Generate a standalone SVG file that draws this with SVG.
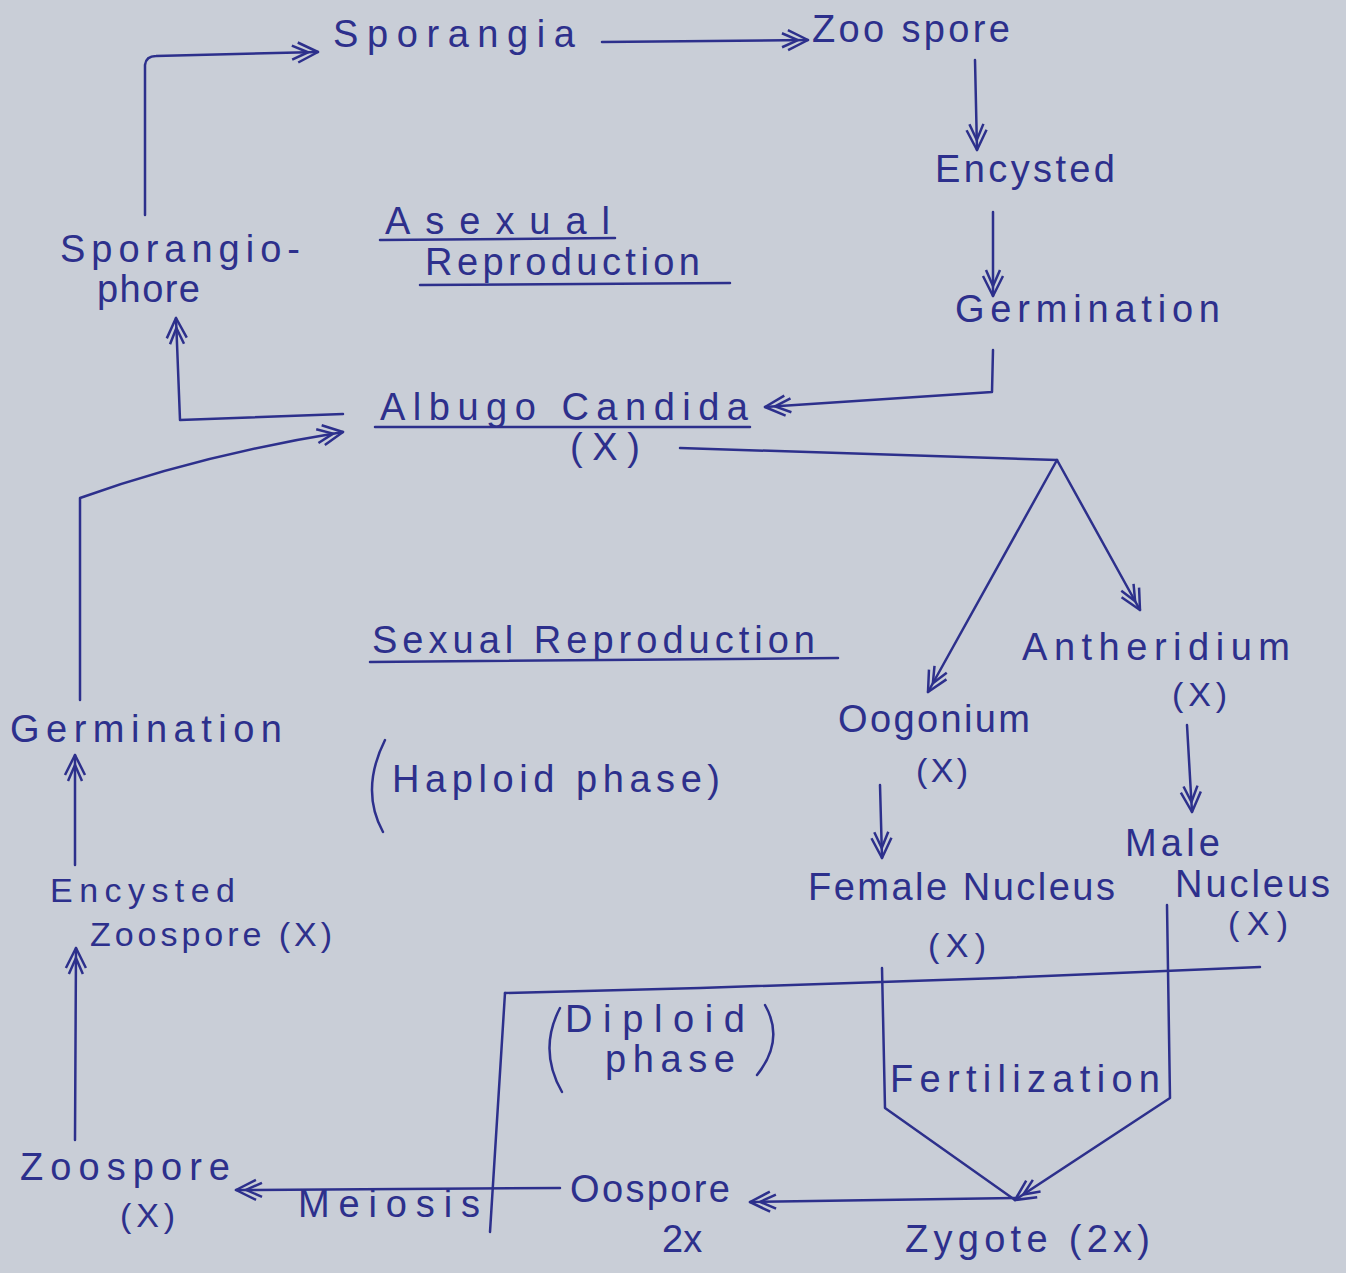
<svg xmlns="http://www.w3.org/2000/svg" width="1346" height="1273" viewBox="0 0 1346 1273">
<defs>
<style>
.t{font-family:"Liberation Sans",Arial,sans-serif;fill:#2d308c;font-size:38px}
.s{font-family:"Liberation Sans",Arial,sans-serif;fill:#2d308c;font-size:34px}
.ln{stroke:#2d308c;stroke-width:2.5;fill:none;stroke-linecap:round;stroke-linejoin:round}
</style>
<marker id="ah" viewBox="0 0 30 24" refX="28" refY="12" markerWidth="30" markerHeight="24" markerUnits="userSpaceOnUse" orient="auto">
<path d="M8,2 L28,12 L8,22 M2,5 L18,12 L2,19" fill="none" stroke="#2d308c" stroke-width="2.5" stroke-linejoin="round"/>
</marker>
</defs>
<rect width="1346" height="1273" fill="#c9ced7"/>

<g id="connectors">
<path class="ln" d="M145,215 L145,65 Q146,56 156,56 L318,52" marker-end="url(#ah)"/>
<path class="ln" d="M602,42 L808,40" marker-end="url(#ah)"/>
<path class="ln" d="M975,60 L977,150" marker-end="url(#ah)"/>
<path class="ln" d="M993,212 L993,296" marker-end="url(#ah)"/>
<path class="ln" d="M993,350 L992,392 L765,407" marker-end="url(#ah)"/>
<path class="ln" d="M343,414 L180,420 L176,318" marker-end="url(#ah)"/>
<path class="ln" d="M80,700 L80,498 Q200,455 343,432" marker-end="url(#ah)"/>
<path class="ln" d="M680,448 L1057,460"/>
<path class="ln" d="M1057,460 L928,692" marker-end="url(#ah)"/>
<path class="ln" d="M1057,460 L1140,610" marker-end="url(#ah)"/>
<path class="ln" d="M880,785 L882,858" marker-end="url(#ah)"/>
<path class="ln" d="M1187,725 L1192,812" marker-end="url(#ah)"/>
<path class="ln" d="M75,865 L75,755" marker-end="url(#ah)"/>
<path class="ln" d="M75,1140 L76,948" marker-end="url(#ah)"/>
<path class="ln" d="M505,993 L700,988 L1000,978 L1260,967"/>
<path class="ln" d="M505,993 L490,1232"/>
<path class="ln" d="M882,968 L885,1108 L1015,1200"/>
<path class="ln" d="M1167,905 L1170,1098 L1015,1200" marker-end="url(#ah)"/>
<path class="ln" d="M1015,1198 L750,1202" marker-end="url(#ah)"/>
<path class="ln" d="M560,1188 L236,1190" marker-end="url(#ah)"/>
<path class="ln" d="M380,240 L615,238"/>
<path class="ln" d="M420,285 L730,283"/>
<path class="ln" d="M375,427 L750,427"/>
<path class="ln" d="M370,662 L838,658"/>
<path class="ln" d="M385,740 Q360,790 383,832"/>
<path class="ln" d="M560,1008 Q538,1050 562,1092"/>
<path class="ln" d="M765,1005 Q785,1040 757,1075"/>
</g>

<g id="n-sporangia"><text class="t" x="333" y="47" textLength="242">Sporangia</text></g>
<g id="n-zoospore-top"><text class="t" x="812" y="42" textLength="198">Zoo spore</text></g>
<g id="n-encysted-top"><text class="t" x="935" y="182" textLength="180">Encysted</text></g>
<g id="n-germination-top"><text class="t" x="955" y="322" textLength="265">Germination</text></g>
<g id="n-asexual"><text class="t" x="385" y="234" textLength="225">Asexual</text><text class="t" x="425" y="275" textLength="275">Reproduction</text></g>
<g id="n-sporangiophore"><text class="t" x="60" y="262" textLength="240">Sporangio-</text><text class="t" x="97" y="302" textLength="103">phore</text></g>
<g id="n-albugo"><text class="t" x="380" y="420" textLength="368">Albugo Candida</text><text class="t" x="570" y="460" textLength="70">(X)</text></g>
<g id="n-sexual"><text class="t" x="372" y="653" textLength="443">Sexual Reproduction</text></g>
<g id="n-haploid"><text class="t" x="392" y="792" textLength="328">Haploid phase)</text></g>
<g id="n-antheridium"><text class="t" x="1022" y="660" textLength="268">Antheridium</text><text class="s" x="1172" y="706" textLength="55">(X)</text></g>
<g id="n-oogonium"><text class="t" x="838" y="732" textLength="192">Oogonium</text><text class="s" x="916" y="782" textLength="52">(X)</text></g>
<g id="n-male"><text class="t" x="1125" y="856" textLength="95">Male</text><text class="t" x="1175" y="897" textLength="155">Nucleus</text><text class="s" x="1228" y="935" textLength="60">(X)</text></g>
<g id="n-female"><text class="t" x="808" y="900" textLength="307">Female Nucleus</text><text class="s" x="928" y="957" textLength="58">(X)</text></g>
<g id="n-germination-left"><text class="t" x="10" y="742" textLength="272">Germination</text></g>
<g id="n-encysted-left"><text class="s" x="50" y="902" textLength="185">Encysted</text><text class="s" x="90" y="946" textLength="242">Zoospore (X)</text></g>
<g id="n-zoospore-left"><text class="t" x="20" y="1180" textLength="210">Zoospore</text><text class="s" x="120" y="1227" textLength="55">(X)</text></g>
<g id="n-diploid"><text class="t" x="565" y="1032" textLength="180">Diploid</text><text class="t" x="605" y="1072" textLength="130">phase</text></g>
<g id="n-fertilization"><text class="t" x="890" y="1092" textLength="270">Fertilization</text></g>
<g id="n-meiosis"><text class="t" x="298" y="1217" textLength="182">Meiosis</text></g>
<g id="n-oospore"><text class="t" x="570" y="1202" textLength="160">Oospore</text><text class="t" x="662" y="1252">2x</text></g>
<g id="n-zygote"><text class="t" x="905" y="1252" textLength="245">Zygote (2x)</text></g>
</svg>
